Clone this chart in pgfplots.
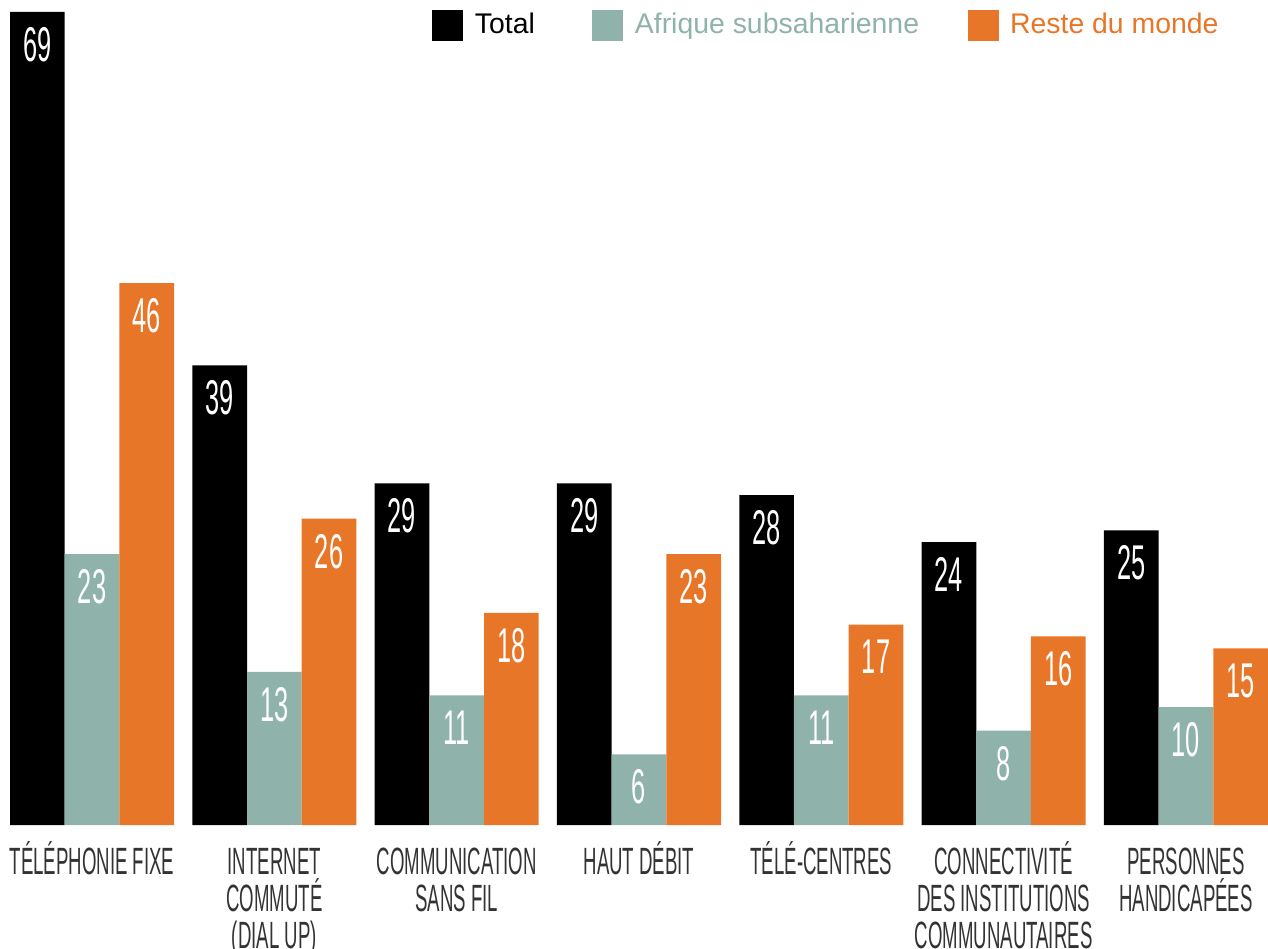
\documentclass[border=0pt]{standalone}
\usepackage{fontspec}
\setmainfont{Liberation Sans}
\usepackage{graphicx}
\usepackage{pgfplots}
\pgfplotsset{compat=1.18}

\definecolor{ssa}{RGB}{143,178,170}
\definecolor{rdm}{RGB}{232,118,40}

% condensed caps for category names, fixed line pitch
\newcommand\lbl[1]{\scalebox{0.49}[1]{\vtop{\baselineskip=18.5pt\lineskiplimit=-100pt
    \let\\\cr\halign{\hfil##\hfil\cr#1\crcr}}}}

\begin{document}
\begin{tikzpicture}
\useasboundingbox (-5pt,-61.5pt) rectangle (629pt,412.5pt);
\begin{axis}[
    at={(0,0)}, anchor=south west,
    scale only axis,
    width=629pt, height=406.5pt,
    xmin=-0.45, xmax=6.45,
    ymin=0, ymax=69,
    clip=false,
    ybar=0pt,
    bar width=0.3,
    axis line style={draw=none},
    tick style={draw=none},
    major tick length=0pt,
    ytick=\empty,
    xtick={0,...,6},
    xticklabels={
        \lbl{TÉLÉPHONIE FIXE},
        \lbl{INTERNET\\COMMUTÉ\\(DIAL UP)},
        \lbl{COMMUNICATION\\SANS FIL},
        \lbl{HAUT DÉBIT},
        \lbl{TÉLÉ-CENTRES},
        \lbl{CONNECTIVITÉ\\DES INSTITUTIONS\\COMMUNAUTAIRES},
        \lbl{PERSONNES\\HANDICAPÉES}},
    xticklabel style={anchor=base, inner sep=0pt, yshift=-24.5pt,
        font=\fontsize{19}{19}\selectfont, text=black!80},
    /pgf/number format/assume math mode=true,
    nodes near coords={\scalebox{0.52}[1]{\pgfmathprintnumber\pgfplotspointmeta}},
    every node near coord/.append style={anchor=north, inner sep=0pt,
        yshift=-7.5pt, text=white, font=\fontsize{24.4}{24}\selectfont},
    legend columns=3,
    legend style={at={(0.3355,1.0037)}, anchor=north west, draw=none, fill=none,
        inner sep=0pt, font=\fontsize{14.2}{16}\selectfont,
        /tikz/every odd column/.append style={column sep=3.75pt},
        /tikz/column 2/.append style={column sep=26.75pt},
        /tikz/column 4/.append style={column sep=22.25pt}},
    legend image code/.code={\fill (0pt,-7.75pt) rectangle (15.5pt,7.75pt);},
]
\addplot[fill=black, draw=none] coordinates {
    (0,69) (1,39) (2,29) (3,29) (4,28) (5,24) (6,25)};
\addplot[fill=ssa, draw=none] coordinates {
    (0,23) (1,13) (2,11) (3,6) (4,11) (5,8) (6,10)};
\addplot[fill=rdm, draw=none] coordinates {
    (0,46) (1,26) (2,18) (3,23) (4,17) (5,16) (6,15)};
\legend{Total, \textcolor{ssa}{Afrique subsaharienne}, \textcolor{rdm}{Reste du monde}}
\end{axis}
\end{tikzpicture}
\end{document}
